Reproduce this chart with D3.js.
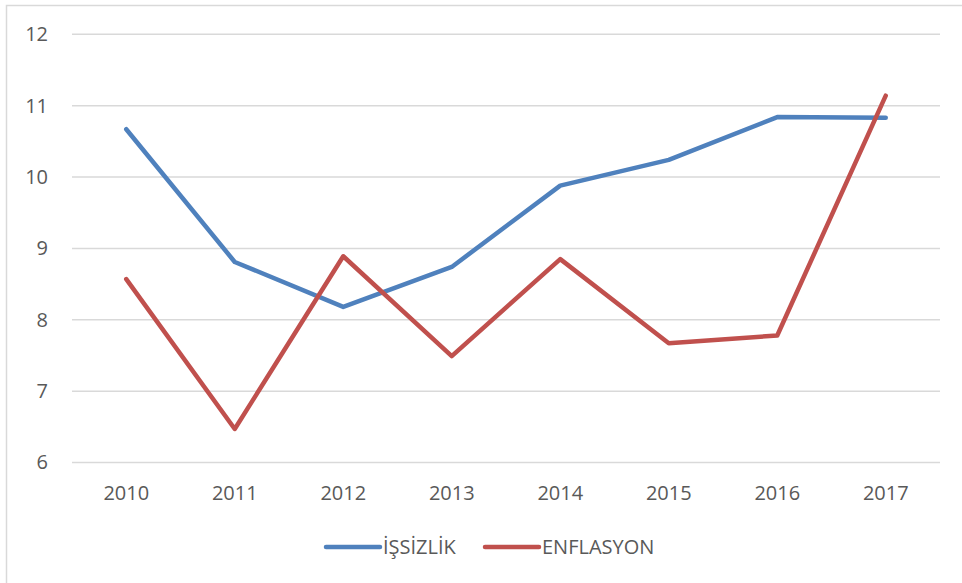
<!DOCTYPE html>
<html><head><meta charset="utf-8">
<script src="https://cdn.jsdelivr.net/npm/d3@7"></script>
<style>
html,body{margin:0;padding:0;background:#fff;}
svg{display:block;font-family:"Open Sans","Noto Sans",sans-serif;}
</style></head>
<body><svg id="c" width="962" height="583"></svg>
<script>
const years = ["2010","2011","2012","2013","2014","2015","2016","2017"];
const issizlik = [10.67, 8.81, 8.18, 8.74, 9.88, 10.24, 10.84, 10.83];
const enflasyon = [8.57, 6.47, 8.89, 7.49, 8.85, 7.67, 7.78, 11.14];
const yTicks = [6, 7, 8, 9, 10, 11, 12];
const seriesNames = ["İŞSİZLİK", "ENFLASYON"];
const colors = ["#4F81BD", "#C0504D"];

const svg = d3.select("#c");
// chart frame
svg.append("rect").attr("x",6.5).attr("y",5.5).attr("width",970).attr("height",600)
  .attr("fill","none").attr("stroke","#d9d9d9").attr("stroke-width",1.5);

const x = d3.scaleBand().domain(years).range([72, 940]);
const y = d3.scaleLinear().domain([6, 12]).range([462.5, 34.3]);

// gridlines
svg.append("g").selectAll("line").data(yTicks).join("line")
  .attr("x1",72).attr("x2",940).attr("y1",d=>y(d)).attr("y2",d=>y(d))
  .attr("stroke","#d9d9d9").attr("stroke-width",1.5);

const fontFam = "'Open Sans','Noto Sans',sans-serif";
// y axis labels
const yAxis = d3.axisLeft(y).tickValues(yTicks).tickFormat(d3.format("d")).tickSize(0).tickPadding(0);
const gy = svg.append("g").attr("transform","translate(48,0)").call(yAxis);
gy.select(".domain").remove();
gy.selectAll("text").attr("fill","#595959").style("font-size","20px").style("font-family",fontFam);

// x axis labels
const xAxis = d3.axisBottom(x).tickSize(0).tickPadding(0);
const gx = svg.append("g").attr("transform","translate(0,486)").call(xAxis);
gx.select(".domain").remove();
gx.selectAll("text").attr("fill","#595959").style("font-size","20px").style("font-family",fontFam);

const line = d3.line().x((d,i)=>x(years[i]) + x.bandwidth()/2).y(d=>y(d));
[issizlik, enflasyon].forEach((s,k)=>{
  svg.append("path").datum(s).attr("d",line).attr("fill","none")
    .attr("stroke",colors[k]).attr("stroke-width",4.5)
    .attr("stroke-linecap","round").attr("stroke-linejoin","round");
});

// legend
const legX = [326, 485];
seriesNames.forEach((n,k)=>{
  const g = svg.append("g").attr("transform",`translate(${legX[k]},547)`);
  g.append("line").attr("x1",0).attr("x2",54).attr("y1",0).attr("y2",0)
    .attr("stroke",colors[k]).attr("stroke-width",4.5).attr("stroke-linecap","round");
  g.append("text").attr("x",57).attr("y",0).attr("dy","0.35em")
    .attr("fill","#595959").style("font-size","20px").style("font-family",fontFam).text(n);
});
</script></body></html>
